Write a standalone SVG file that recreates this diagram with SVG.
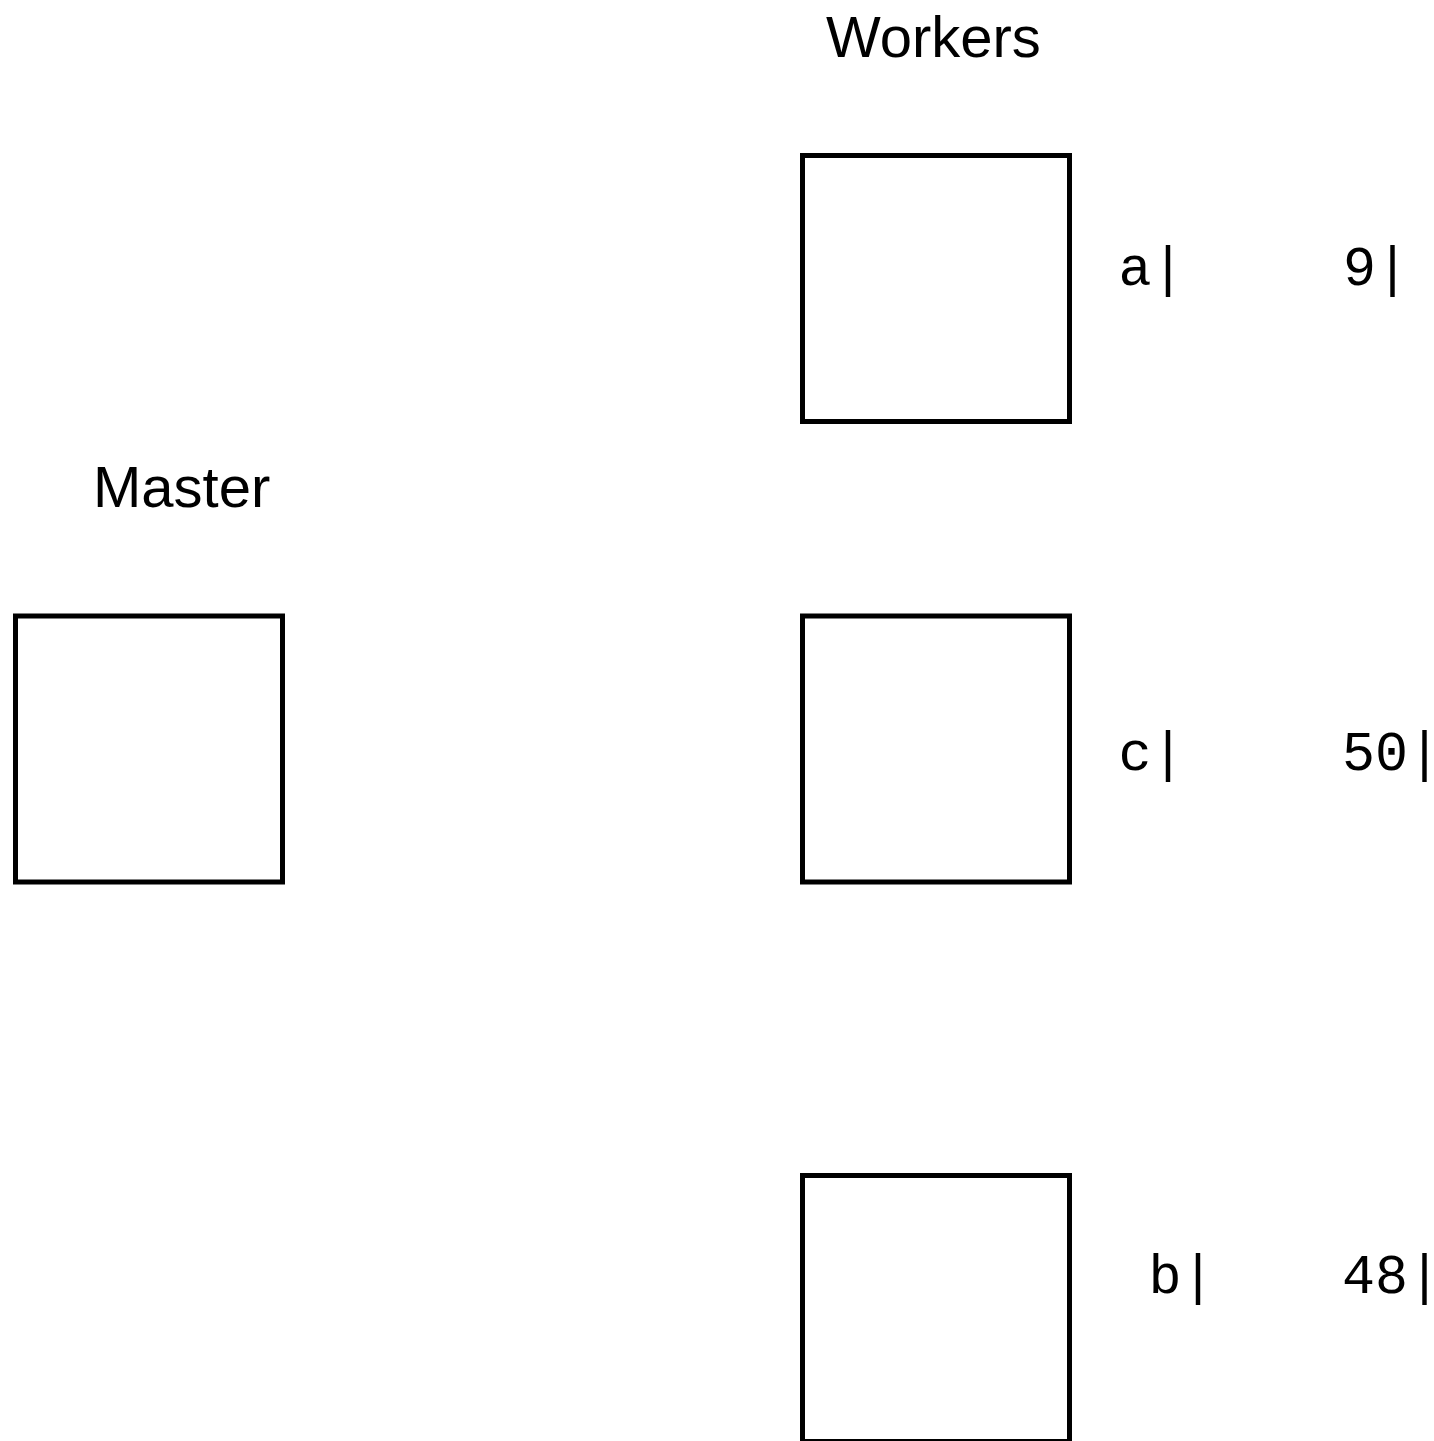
<svg xmlns="http://www.w3.org/2000/svg" width="1434" height="1441" viewBox="0 0 1434 1441">
<style>
.box{fill:#fff;stroke:#000;stroke-width:5}
.title{font-family:"Liberation Sans",Arial,sans-serif;font-size:58px;fill:#000}
.mono{font-family:"Liberation Mono","Courier New",monospace;font-size:55px;fill:#000}
</style>
<rect width="1434" height="1441" fill="#fff"/>
<text class="title" x="826" y="57">Workers</text>
<text class="title" x="93" y="507">Master</text>
<g id="master"><rect class="box" x="15.5" y="616" width="267" height="266"/></g>
<g id="worker-a"><rect class="box" x="802.5" y="155.5" width="267" height="266"/></g>
<g id="worker-c"><rect class="box" x="802.5" y="616" width="267" height="266"/></g>
<g id="worker-b"><rect class="box" x="802.5" y="1175.5" width="267" height="266"/></g>
<g id="connectors"></g>
<g id="labels">
<text class="mono" x="1118.5" y="285">a|</text>
<text class="mono" x="1343" y="285">9|</text>
<text class="mono" x="1118.5" y="770">c|</text>
<text class="mono" x="1342" y="770">50|</text>
<text class="mono" x="1148.5" y="1293">b|</text>
<text class="mono" x="1342" y="1293">48|</text>
</g>
</svg>
